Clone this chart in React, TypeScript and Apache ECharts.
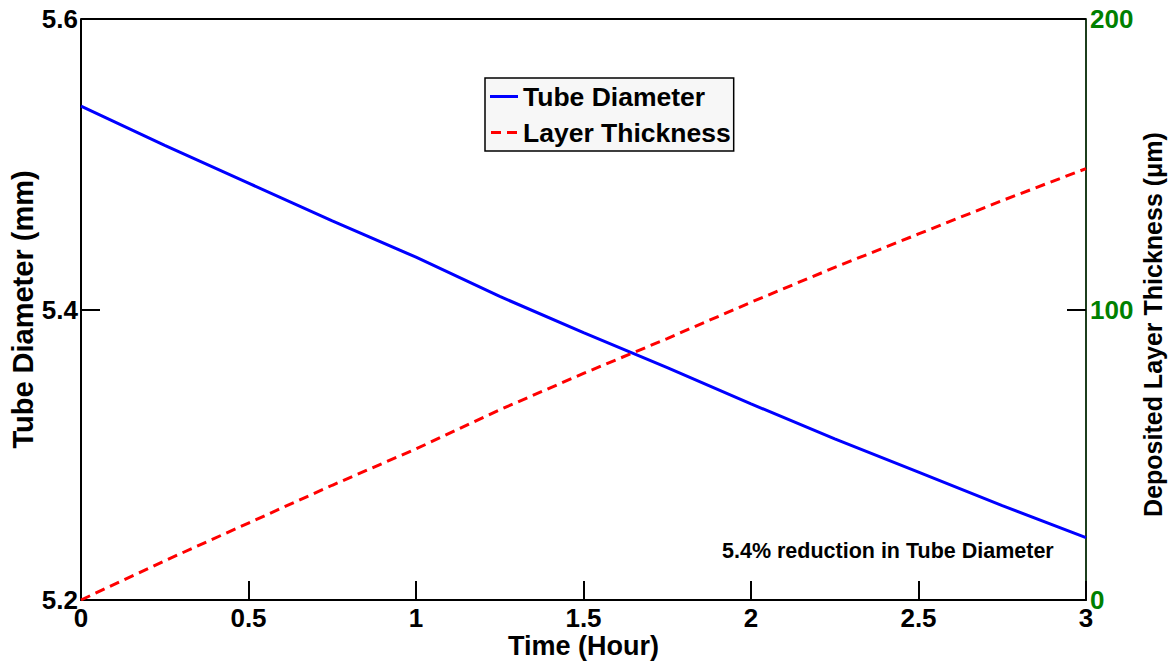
import React, { useEffect, useRef } from "react";
import * as echarts from "echarts";

const timeHours = [0, 0.25, 0.5, 0.75, 1.0, 1.25, 1.5, 1.75, 2.0, 2.25, 2.5, 2.75, 3.0];
const tubeDiameter = [5.54, 5.513, 5.487, 5.461, 5.436, 5.409, 5.384, 5.36, 5.335, 5.311, 5.288, 5.265, 5.243];
const layerThickness = [0, 13.5, 26.5, 39.5, 52, 65.5, 78, 90, 102.5, 114.5, 126, 137.5, 148.5];
const seriesNames = ["Tube Diameter", "Layer Thickness"];
const annotation = "5.4% reduction in Tube Diameter";

const FONT = "'Liberation Sans', Arial, Helvetica, sans-serif";

export default function App() {
  const ref = useRef<HTMLDivElement>(null);
  useEffect(() => {
    if (!ref.current) return;
    const chart = echarts.init(ref.current, undefined, { renderer: "svg" });
    const diamData = timeHours.map((t, i) => [t, tubeDiameter[i]]);
    const thickData = timeHours.map((t, i) => [t, layerThickness[i]]);
    chart.setOption({
      animation: false,
      backgroundColor: "#fff",
      grid: { left: 81, right: 88, top: 19, bottom: 61, containLabel: false, outerBoundsMode: "none" },
      legend: {
        orient: "vertical",
        left: 485,
        top: 78,
        padding: [5, 3, 5, 5],
        itemWidth: 28,
        itemHeight: 3,
        itemGap: 9,
        backgroundColor: "#f7f7f7",
        borderColor: "#000",
        borderWidth: 1.5,
        data: [
          { name: seriesNames[0], icon: "path://M0,0H28V3H0Z", itemStyle: { color: "#0000ff" } },
          { name: seriesNames[1], icon: "path://M0,0H10V3H0Z M16,0H26V3H16Z", itemStyle: { color: "#ff0000" } },
        ],
        textStyle: { fontFamily: FONT, fontWeight: "bold", fontSize: 26.5, color: "#000", lineHeight: 26 },
      },
      xAxis: {
        type: "value",
        min: 0,
        max: 3,
        interval: 0.5,
        name: "Time (Hour)",
        nameLocation: "middle",
        nameGap: 32,
        nameMoveOverlap: false,
        nameTextStyle: { fontFamily: FONT, fontWeight: "bold", fontSize: 27, color: "#000", lineHeight: 27 },
        axisLine: { show: true, lineStyle: { color: "#000", width: 2 } },
        axisTick: { show: true, inside: true, length: 19, lineStyle: { color: "#000", width: 2 } },
        axisLabel: { fontFamily: FONT, fontWeight: "bold", fontSize: 26, color: "#000", margin: 5, lineHeight: 26 },
        splitLine: { show: false },
      },
      yAxis: [
        {
          type: "value",
          min: 5.2,
          max: 5.6,
          interval: 0.2,
          position: "left",
          name: "Tube Diameter (mm)",
          nameLocation: "middle",
          nameGap: 44,
          nameMoveOverlap: false,
          nameTextStyle: { fontFamily: FONT, fontWeight: "bold", fontSize: 29, color: "#000" },
          axisLine: { show: true, lineStyle: { color: "#000", width: 2 } },
          axisTick: { show: true, inside: true, length: 19, lineStyle: { color: "#000", width: 2 } },
          axisLabel: {
            fontFamily: FONT,
            fontWeight: "bold",
            fontSize: 26,
            color: "#000",
            margin: 3,
            formatter: (v: number) => v.toFixed(1),
          },
          splitLine: { show: false },
        },
        {
          type: "value",
          min: 0,
          max: 200,
          interval: 100,
          position: "right",
          name: "Deposited Layer Thickness (μm)",
          nameLocation: "middle",
          nameGap: 54,
          nameRotate: 90,
          nameMoveOverlap: false,
          nameTextStyle: {
            fontFamily: FONT,
            fontWeight: "bold",
            fontSize: 25,
            color: "#000",
            padding: [0, 30, 0, 0],
          },
          axisLine: { show: true, lineStyle: { color: "#1c3d1c", width: 2 } },
          axisTick: { show: true, inside: true, length: 19, lineStyle: { color: "#000", width: 2 } },
          axisLabel: { fontFamily: FONT, fontWeight: "bold", fontSize: 26, color: "#008000", margin: 4 },
          splitLine: { show: false },
        },
      ],
      graphic: [
        {
          type: "line",
          shape: { x1: 81, y1: 19, x2: 1086, y2: 19 },
          style: { stroke: "#000", lineWidth: 2 },
          z: 10,
        },
        {
          type: "text",
          left: 722,
          top: 540,
          style: {
            text: annotation,
            fontFamily: FONT,
            fontWeight: "bold",
            fontSize: 21.5,
            fill: "#000",
          },
          z: 10,
        },
      ],
      series: [
        {
          name: seriesNames[0],
          type: "line",
          yAxisIndex: 0,
          data: diamData,
          symbol: "none",
          lineStyle: { color: "#0000ff", width: 3 },
          itemStyle: { color: "#0000ff" },
        },
        {
          name: seriesNames[1],
          type: "line",
          yAxisIndex: 1,
          data: thickData,
          symbol: "none",
          lineStyle: { color: "#ff0000", width: 3, type: [10, 6] },
          itemStyle: { color: "#ff0000" },
        },
      ],
    });
    return () => chart.dispose();
  }, []);
  return (
    <div
      ref={ref}
      style={{ position: "absolute", left: 0, top: 0, width: 1174, height: 661, background: "#fff" }}
    />
  );
}
